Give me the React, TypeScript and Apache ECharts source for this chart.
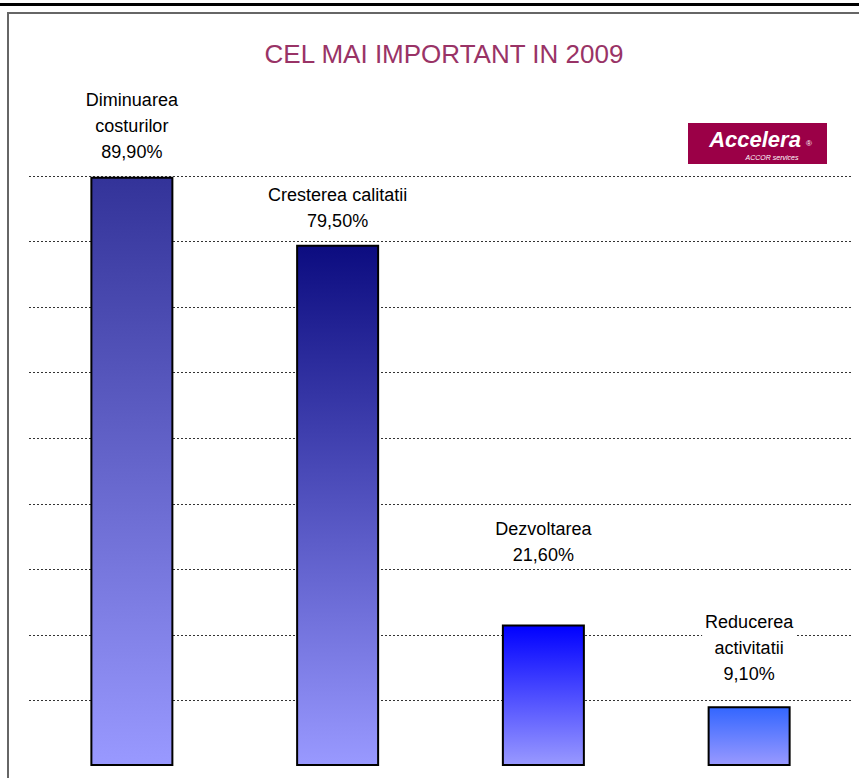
import React, { useEffect, useRef } from "react";
import * as echarts from "echarts";

const categories = ["Diminuarea\ncosturilor", "Cresterea calitatii", "Dezvoltarea", "Reducerea\nactivitatii"];
const values = [89.9, 79.5, 21.6, 9.1];
const valueLabels = ["89,90%", "79,50%", "21,60%", "9,10%"];
const tickValues = [0, 10, 20, 30, 40, 50, 60, 70, 80, 90];
const titleText = "CEL MAI IMPORTANT IN 2009";

const topColors = ["#333399", "#0c0c80", "#0000ff", "#3366ff"];
const labelGaps = [12, 11, 56, 19];

export default function App() {
  const ref = useRef<HTMLDivElement>(null);
  useEffect(() => {
    if (!ref.current) return;
    const chart = echarts.init(ref.current, undefined, { renderer: "svg" });
    const font = "'Liberation Sans', Arial, sans-serif";
    const option: any = {
      animation: false,
      backgroundColor: "#ffffff",
      title: {
        text: titleText,
        left: 439,
        textAlign: "center",
        top: 36,
        textStyle: { color: "#993366", fontSize: 26, fontWeight: "normal", fontFamily: font },
      },
      grid: { left: 29, width: 823, top: 176, bottom: 12, containLabel: false },
      xAxis: {
        type: "category",
        data: categories,
        axisLine: { show: false },
        axisTick: { show: false },
        axisLabel: { show: false },
      },
      yAxis: {
        type: "value",
        min: tickValues[0],
        max: tickValues[tickValues.length - 1],
        interval: 10,
        axisLine: { show: false },
        axisTick: { show: false },
        axisLabel: { show: false },
        splitLine: {
          show: true,
          lineStyle: {
            color: tickValues.map((_, i) => (i === 0 ? "rgba(0,0,0,0)" : "#333333")),
            type: [2, 2],
            width: 1,
          },
        },
      },
      series: [
        {
          type: "bar",
          barWidth: 83,
          z: 3,
          data: values.map((v, i) => ({
            value: v,
            itemStyle: {
              color: new echarts.graphic.LinearGradient(0, 0, 0, 1, [
                { offset: 0, color: topColors[i] },
                { offset: 1, color: "#9999ff" },
              ]),
              borderColor: "#000000",
              borderWidth: 2,
            },
            label: {
              show: true,
              position: "top",
              distance: labelGaps[i],
              formatter: categories[i] + "\n" + valueLabels[i],
              fontSize: 18,
              lineHeight: 26,
              color: "#000000",
              fontFamily: font,
              backgroundColor: "#ffffff",
              padding: [0, 3],
              align: "center",
            },
          })),
        },
      ],
      graphic: [
        { type: "rect", shape: { x: 0, y: 3, width: 859, height: 3 }, style: { fill: "#000000" }, z: 10 },
        {
          type: "polyline",
          shape: { points: [[8, 778], [8, 13], [859, 13]] },
          style: { stroke: "#666666", lineWidth: 2, fill: null },
          z: 10,
        },
        { type: "rect", shape: { x: 688, y: 123, width: 139, height: 41 }, style: { fill: "#9b0047" }, z: 10 },
        {
          type: "text",
          x: 755,
          y: 139,
          z: 11,
          style: {
            text: "Accelera",
            fill: "#ffffff",
            font: "italic bold 22px 'Liberation Sans', Arial, sans-serif",
            align: "center",
            verticalAlign: "middle",
          },
        },
        {
          type: "text",
          x: 809,
          y: 143,
          z: 11,
          style: { text: "®", fill: "#ffffff", font: "8px 'Liberation Sans', Arial, sans-serif", align: "center", verticalAlign: "middle" },
        },
        {
          type: "text",
          x: 772,
          y: 157,
          z: 11,
          style: {
            text: "ACCOR services",
            fill: "#ffffff",
            font: "italic 7px 'Liberation Sans', Arial, sans-serif",
            align: "center",
            verticalAlign: "middle",
          },
        },
      ],
    };
    chart.setOption(option);
    return () => chart.dispose();
  }, []);
  return <div ref={ref} style={{ position: "fixed", left: 0, top: 0, width: 859, height: 778 }} />;
}
